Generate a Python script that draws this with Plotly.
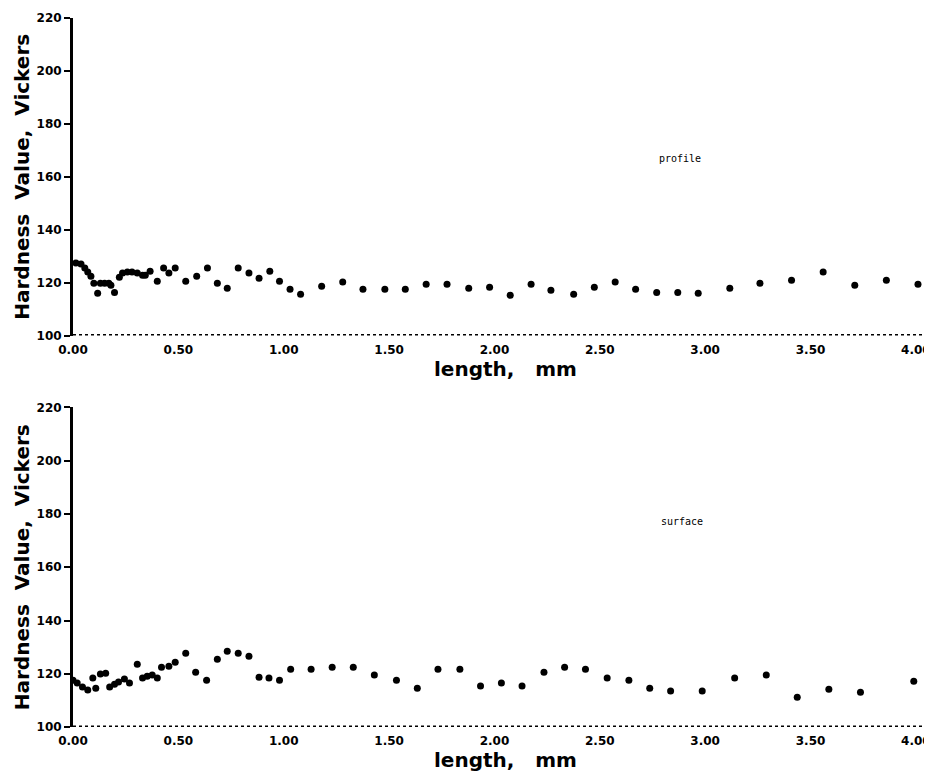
import plotly.graph_objects as go

# ---- data ----
profile_x = [0.014, 0.038, 0.056, 0.07, 0.085, 0.099, 0.117, 0.13, 0.15, 0.17, 0.18, 0.197,
             0.22, 0.235, 0.258, 0.28, 0.305, 0.33, 0.343, 0.366, 0.40, 0.43, 0.455, 0.485,
             0.535, 0.587, 0.638, 0.685, 0.732, 0.784, 0.835, 0.883, 0.934, 0.98, 1.03, 1.08,
             1.18, 1.28, 1.376, 1.48, 1.577, 1.676, 1.775, 1.878, 1.977, 2.075, 2.174, 2.268,
             2.376, 2.474, 2.573, 2.67, 2.77, 2.87, 2.967, 3.117, 3.26, 3.41, 3.56, 3.71, 3.86, 4.01]
profile_y = [127.4, 127.0, 125.5, 124.0, 122.4, 119.8, 116.0, 119.8, 119.8, 119.8, 119.0, 116.3,
             122.0, 123.6, 124.0, 124.0, 123.6, 122.8, 122.8, 124.3, 120.5, 125.5, 123.6, 125.5,
             120.5, 122.4, 125.5, 119.8, 117.9, 125.5, 123.6, 121.7, 124.3, 120.5, 117.5, 115.6,
             118.6, 120.2, 117.5, 117.5, 117.5, 119.4, 119.4, 117.9, 118.3, 115.2, 119.4, 117.1,
             115.6, 118.3, 120.2, 117.5, 116.3, 116.3, 116.0, 117.9, 119.8, 120.9, 124.0, 119.0, 120.9, 119.4]

surface_x = [0.0, 0.02, 0.045, 0.07, 0.094, 0.108, 0.13, 0.155, 0.174, 0.197, 0.216, 0.244,
             0.268, 0.305, 0.33, 0.352, 0.376, 0.40, 0.42, 0.455, 0.485, 0.535, 0.582, 0.634,
             0.685, 0.732, 0.784, 0.835, 0.883, 0.93, 0.98, 1.033, 1.13, 1.23, 1.33, 1.43,
             1.535, 1.634, 1.732, 1.836, 1.934, 2.033, 2.131, 2.235, 2.333, 2.432, 2.535, 2.638,
             2.737, 2.836, 2.986, 3.14, 3.29, 3.437, 3.587, 3.737, 3.99]
surface_y = [117.6, 116.5, 115.0, 113.9, 118.4, 114.6, 119.9, 120.2, 115.0, 116.1, 116.9, 118.0,
             116.5, 123.6, 118.4, 119.1, 119.5, 118.4, 122.5, 122.8, 124.3, 127.7, 120.6, 117.6,
             125.5, 128.5, 127.7, 126.6, 118.7, 118.4, 117.6, 121.7, 121.7, 122.5, 122.5, 119.5,
             117.6, 114.6, 121.7, 121.7, 115.4, 116.5, 115.4, 120.6, 122.5, 121.7, 118.4, 117.6,
             114.6, 113.5, 113.5, 118.4, 119.5, 111.2, 114.2, 113.1, 117.2]

x_ticks = [0.0, 0.5, 1.0, 1.5, 2.0, 2.5, 3.0, 3.5, 4.0]
x_tick_labels = ["0.00", "0.50", "1.00", "1.50", "2.00", "2.50", "3.00", "3.50", "4.00"]
y_ticks = [100, 120, 140, 160, 180, 200, 220]
y_tick_labels = ["100", "120", "140", "160", "180", "200", "220"]
panel_labels = ["profile", "surface"]

W, H = 932, 778
fig = go.Figure()

fig.add_trace(go.Scatter(x=profile_x, y=profile_y, mode="markers",
                         marker=dict(color="black", size=7), xaxis="x", yaxis="y",
                         showlegend=False))
fig.add_trace(go.Scatter(x=surface_x, y=surface_y, mode="markers",
                         marker=dict(color="black", size=7), xaxis="x2", yaxis="y2",
                         showlegend=False))

tickfont = dict(family="DejaVu Sans", size=12, color="black")
titlefont = dict(family="DejaVu Sans", size=20, color="black")

def xaxis_cfg(anchor, standoff):
    return dict(range=[0, 4.105], domain=[0, 1], anchor=anchor, tickvals=x_ticks,
                ticktext=["<b>%s</b>" % t for t in x_tick_labels], tickfont=tickfont,
                showgrid=False, zeroline=False, showline=False, ticks="",
                ticklabelstandoff=5,
                title=dict(text="<b>length,   mm</b>", font=titlefont, standoff=standoff))

def yaxis_cfg(anchor, dom):
    return dict(range=[100, 220], domain=dom, anchor=anchor, tickvals=y_ticks,
                ticktext=["<b>%s</b>" % t for t in y_tick_labels], tickfont=tickfont,
                showgrid=False, zeroline=False, showline=True, linewidth=3, linecolor="black",
                ticks="outside", ticklen=6, tickwidth=2, tickcolor="black",
                title=dict(text="<b>Hardness  Value,  Vickers</b>", font=titlefont, standoff=2))

fig.update_layout(
    width=W, height=H,
    margin=dict(l=65, r=2, t=0, b=0),
    paper_bgcolor="white", plot_bgcolor="white",
    xaxis=xaxis_cfg("y", 0),
    yaxis=yaxis_cfg("x", [0.5804, 0.9961]),
    xaxis2=xaxis_cfg("y2", 3),
    yaxis2=yaxis_cfg("x2", [0.0680, 0.4863]),
)

# dotted x axis lines at y=100
for xr, yr in [("x domain", "y"), ("x2 domain", "y2")]:
    fig.add_shape(type="line", xref=xr, yref=yr, x0=0, x1=1, y0=100, y1=100,
                  line=dict(color="black", width=3, dash="dot"))

fig.add_annotation(x=2.77, y=167, xref="x", yref="y", text=panel_labels[0], showarrow=False,
                   xanchor="left", font=dict(family="DejaVu Sans Mono", size=10, color="black"))
fig.add_annotation(x=2.78, y=177, xref="x2", yref="y2", text=panel_labels[1], showarrow=False,
                   xanchor="left", font=dict(family="DejaVu Sans Mono", size=10, color="black"))

fig.write_html("out.html")
